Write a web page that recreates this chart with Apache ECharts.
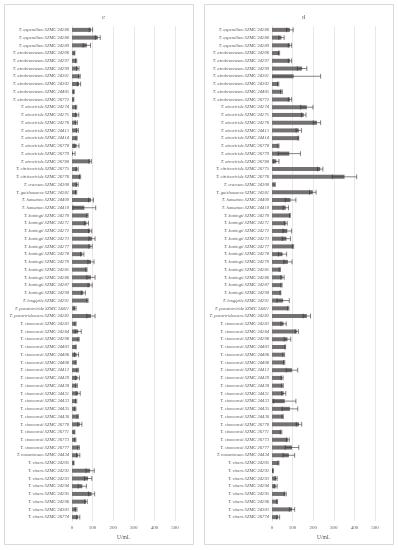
<!DOCTYPE html>
<html><head><meta charset="utf-8">
<script src="https://cdn.jsdelivr.net/npm/echarts@6/dist/echarts.min.js"></script>
<style>html,body{margin:0;padding:0;background:#fff}#c{width:398px;height:550px}</style>
</head><body><div id="c"></div>
<script>
const categories = [
"T. asperellum SZMC 24280","T. asperellum SZMC 24288","T. asperellum SZMC 24289",
"T. atrobrunneum SZMC 24206","T. atrobrunneum SZMC 24297","T. atrobrunneum SZMC 24299","T. atrobrunneum SZMC 24301","T. atrobrunneum SZMC 24302","T. atrobrunneum SZMC 24405","T. atrobrunneum SZMC 26772",
"T. atroviride SZMC 24274","T. atroviride SZMC 24275","T. atroviride SZMC 24276","T. atroviride SZMC 24413","T. atroviride SZMC 24414","T. atroviride SZMC 26778","T. atroviride SZMC 26779","T. atroviride SZMC 26780",
"T. citrinoviride SZMC 26775","T. citrinoviride SZMC 26776","T. crassum SZMC 24300","T. guizhouense SZMC 24281",
"T. hamatum SZMC 24409","T. hamatum SZMC 24410",
"T. koningii SZMC 24270","T. koningii SZMC 24271","T. koningii SZMC 24272","T. koningii SZMC 24273","T. koningii SZMC 24277","T. koningii SZMC 24278","T. koningii SZMC 24279","T. koningii SZMC 24285","T. koningii SZMC 24286","T. koningii SZMC 24287","T. koningii SZMC 24290",
"T. longipile SZMC 24291","T. paratroviride SZMC 24411","T. paraviridescens SZMC 24282",
"T. simmonsii SZMC 24283","T. simmonsii SZMC 24284","T. simmonsii SZMC 24298","T. simmonsii SZMC 24403","T. simmonsii SZMC 24406","T. simmonsii SZMC 24408","T. simmonsii SZMC 24412","T. simmonsii SZMC 24429","T. simmonsii SZMC 24430","T. simmonsii SZMC 24431","T. simmonsii SZMC 24433","T. simmonsii SZMC 24435","T. simmonsii SZMC 24436","T. simmonsii SZMC 26770","T. simmonsii SZMC 26771","T. simmonsii SZMC 26773","T. simmonsii SZMC 26777",
"T. tomentosum SZMC 24434",
"T. virens SZMC 24205","T. virens SZMC 24292","T. virens SZMC 24293","T. virens SZMC 24294","T. virens SZMC 24295","T. virens SZMC 24296","T. virens SZMC 24303","T. virens SZMC 26774"
];
const valuesC = [92,125,72, 12,20,28,36,34,9,7, 20,25,21,26,22,22,5,88, 25,39,25,20, 92,60, 75,70,88,97,90,50,92,70,92,88,55, 75,15,92, 17,30,32,18,22,18,28,26,22,30,20,16,28,38,12,16,32, 30, 8,88,78,50,95,68,20,30];
const errorsC = [8,12,18, 2,3,6,4,8,2,2, 3,8,5,5,3,12,10,6, 5,3,5,3, 12,55, 3,10,8,15,8,8,15,3,20,10,10, 3,5,20, 3,15,3,3,10,3,4,10,4,10,3,3,3,10,2,3,4, 8, 2,20,18,20,15,6,4,8];
const valuesD = [87,46,87, 34,87,146,105,30,46,87, 169,154,218,130,128,31,84,21, 234,352,13,198, 90,67, 87,67,74,70,102,51,77,38,51,46,41, 54,79,169, 56,120,75,64,57,59,97,49,51,57,62,87,52,131,44,77,97, 82, 31,5,20,18,64,25,97,30];
const errorsD = [16,13,8, 3,8,23,131,3,4,8, 30,11,18,13,2,3,54,13, 13,59,3,16, 26,13, 2,7,21,20,3,20,20,3,8,3,2, 30,3,18, 13,8,16,2,4,3,28,5,4,10,54,38,3,13,4,7,33, 28, 3,2,5,7,5,2,13,7];
const xTicks = [0,100,200,300,400,500];
const panelTitles = ["c","d"];
const axisName = "U/mL";

const chart = echarts.init(document.getElementById('c'), null, {renderer:'canvas'});
const serif = "'Liberation Serif', 'DejaVu Serif', serif";
const txt = '#595959';

function errItem(params, api){
  const cat = api.value(0), v = api.value(1), e = api.value(2);
  const lo = api.coord([Math.max(0, v - e), cat]), hi = api.coord([v + e, cat]);
  const h = 2.4;
  const st = {stroke:'#303030', lineWidth:0.6};
  const ch = [
    {type:'line', shape:{x1:lo[0],y1:lo[1],x2:hi[0],y2:hi[1]}, style:st},
    {type:'line', shape:{x1:hi[0],y1:hi[1]-h,x2:hi[0],y2:hi[1]+h}, style:st}
  ];
  if (v - e > 0) ch.push({type:'line', shape:{x1:lo[0],y1:lo[1]-h,x2:lo[0],y2:lo[1]+h}, style:st});
  return {type:'group', children:ch};
}

const grids = [
  {left:72, right:223, top:26, bottom:29},
  {left:272, right:23, top:26, bottom:29}
];
const xAxes = grids.map((g,i)=>({
  type:'value', gridIndex:i, min:xTicks[0], max:xTicks[xTicks.length-1], interval:100,
  axisLine:{show:false}, axisTick:{show:false},
  splitLine:{lineStyle:{color:'#d9d9d9', width:0.6}},
  axisLabel:{fontSize:5, color:txt, fontFamily:serif, margin:4},
  name:axisName, nameLocation:'middle', nameGap:13,
  nameTextStyle:{fontSize:5.5, color:txt, fontFamily:serif}
}));
const yAxes = grids.map((g,i)=>({
  type:'category', gridIndex:i, data:categories, inverse:true,
  axisLine:{show:true, lineStyle:{color:'#d9d9d9', width:0.6}}, axisTick:{show:false},
  axisLabel:{fontSize:4.6, color:txt, fontFamily:serif, fontStyle:'italic', interval:0, margin:3}
}));
const seriesList = [];
[[valuesC,errorsC],[valuesD,errorsD]].forEach(([vals,errs],i)=>{
  seriesList.push({type:'bar', xAxisIndex:i, yAxisIndex:i, data:vals, barWidth:4,
    itemStyle:{color:'#767171'}, silent:true});
  seriesList.push({type:'custom', xAxisIndex:i, yAxisIndex:i, renderItem:errItem,
    data:vals.map((v,k)=>[k, v, errs[k]]), encode:{x:1, y:0}, z:5, silent:true});
});

chart.setOption({
  animation:false,
  title: panelTitles.map((t,i)=>({text:t, left: i===0?98.5:298.5, top:9, textAlign:'center',
    textStyle:{fontSize:7, fontWeight:'normal', color:txt, fontFamily:serif}})),
  graphic:[
    {type:'rect', shape:{x:4.5,y:4.5,width:189,height:540}, style:{fill:'none', stroke:'#d9d9d9', lineWidth:1}, z:-1},
    {type:'rect', shape:{x:204.5,y:4.5,width:189,height:540}, style:{fill:'none', stroke:'#d9d9d9', lineWidth:1}, z:-1}
  ],
  grid:grids, xAxis:xAxes, yAxis:yAxes, series:seriesList
});
</script></body></html>
